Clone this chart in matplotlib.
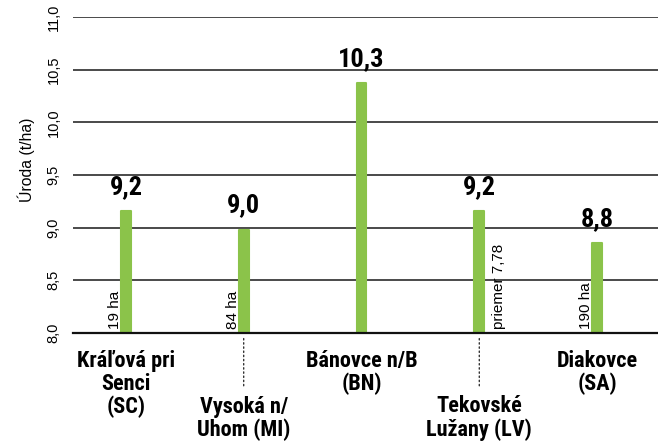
import matplotlib
matplotlib.use("Agg")
import matplotlib.pyplot as plt
from matplotlib import font_manager

categories = ["Kráľová pri\nSenci\n(SC)", "Vysoká n/\nUhom (MI)", "Bánovce n/B\n(BN)",
              "Tekovské\nLužany (LV)", "Diakovce\n(SA)"]
values = [9.16, 8.98, 10.37, 9.16, 8.85]
value_labels = ["9,2", "9,0", "10,3", "9,2", "8,8"]
side_labels = ["19 ha", "84 ha", "", "priemer 7,78", "190 ha"]
side_left = [True, True, True, False, True]
yticks = [8.0, 8.5, 9.0, 9.5, 10.0, 10.5, 11.0]
ytick_labels = ["8,0", "8,5", "9,0", "9,5", "10,0", "10,5", "11,0"]

names = {f.name for f in font_manager.fontManager.ttflist}
cond = [n for n in ["Roboto Condensed", "Liberation Sans Narrow", "DejaVu Sans Condensed"] if n in names]
cond_family = cond + ["DejaVu Sans"]
reg_family = ["Liberation Sans Narrow"] if "Liberation Sans Narrow" in names else ["Liberation Sans"]

W, H = 658, 443
fig = plt.figure(figsize=(W/100, H/100), dpi=100)
ax = fig.add_axes([73/W, 1-333/H, (658-73)/W, (333-17)/H])
n = len(categories)
x = list(range(n))
ax.set_xlim(-0.449, 4.517)
ax.set_ylim(8.0, 11.0)

for yv in yticks[1:]:
    ax.axhline(yv, color="#4a4a4a", lw=1.4, zorder=1)

green = "#8bc34a"
ax.bar(x, [v-8.0 for v in values], bottom=8.0, width=0.082, color=green,
       edgecolor=green, linewidth=1.5, joinstyle="round", zorder=3)

for i, (v, lab) in enumerate(zip(values, value_labels)):
    ax.text(i, v + 0.115, lab, ha="center", va="bottom", fontsize=19,
            fontweight="bold", family=cond_family, zorder=4)

for i, (s, left) in enumerate(zip(side_labels, side_left)):
    if not s:
        continue
    dx = -0.092 if left else 0.17
    ax.text(i + dx, 8.04, s, rotation=90, ha="center", va="bottom",
            fontsize=11, family=reg_family, zorder=4)

for sp in ["top", "right", "left"]:
    ax.spines[sp].set_visible(False)
ax.spines["bottom"].set_color("#111111")
ax.spines["bottom"].set_linewidth(1.6)
ax.spines["bottom"].set_zorder(5)

ax.set_yticks(yticks)
ax.set_yticklabels(ytick_labels, rotation=90, va="center", fontsize=10.5, family=reg_family)
ax.tick_params(axis="y", length=0, pad=9)
ax.set_ylabel("Úroda (t/ha)", fontsize=11.3, family=reg_family)
ax.yaxis.set_label_coords(-(73-35)/(658-73), (333-160)/316)

ax.set_xticks(x)
ax.set_xticklabels([])
ax.tick_params(axis="x", length=0)

for i, c in enumerate(categories):
    if i % 2 == 0:
        ax.annotate(c, xy=(i, 8.0), xytext=(0, -12), textcoords="offset points",
                    ha="center", va="top", fontsize=16, fontweight="bold",
                    family=cond_family, linespacing=1.05, annotation_clip=False)
    else:
        ax.annotate(c, xy=(i, 8.0), xytext=(0, -45), textcoords="offset points",
                    ha="center", va="top", fontsize=16, fontweight="bold",
                    family=cond_family, linespacing=1.05, annotation_clip=False)
        ax.annotate("", xy=(i, 8.0), xytext=(0, -40), textcoords="offset points",
                    arrowprops=dict(arrowstyle="-", ls=(0, (1, 2)), color="#333333", lw=1),
                    annotation_clip=False)

fig.savefig("out.png", dpi=100)
